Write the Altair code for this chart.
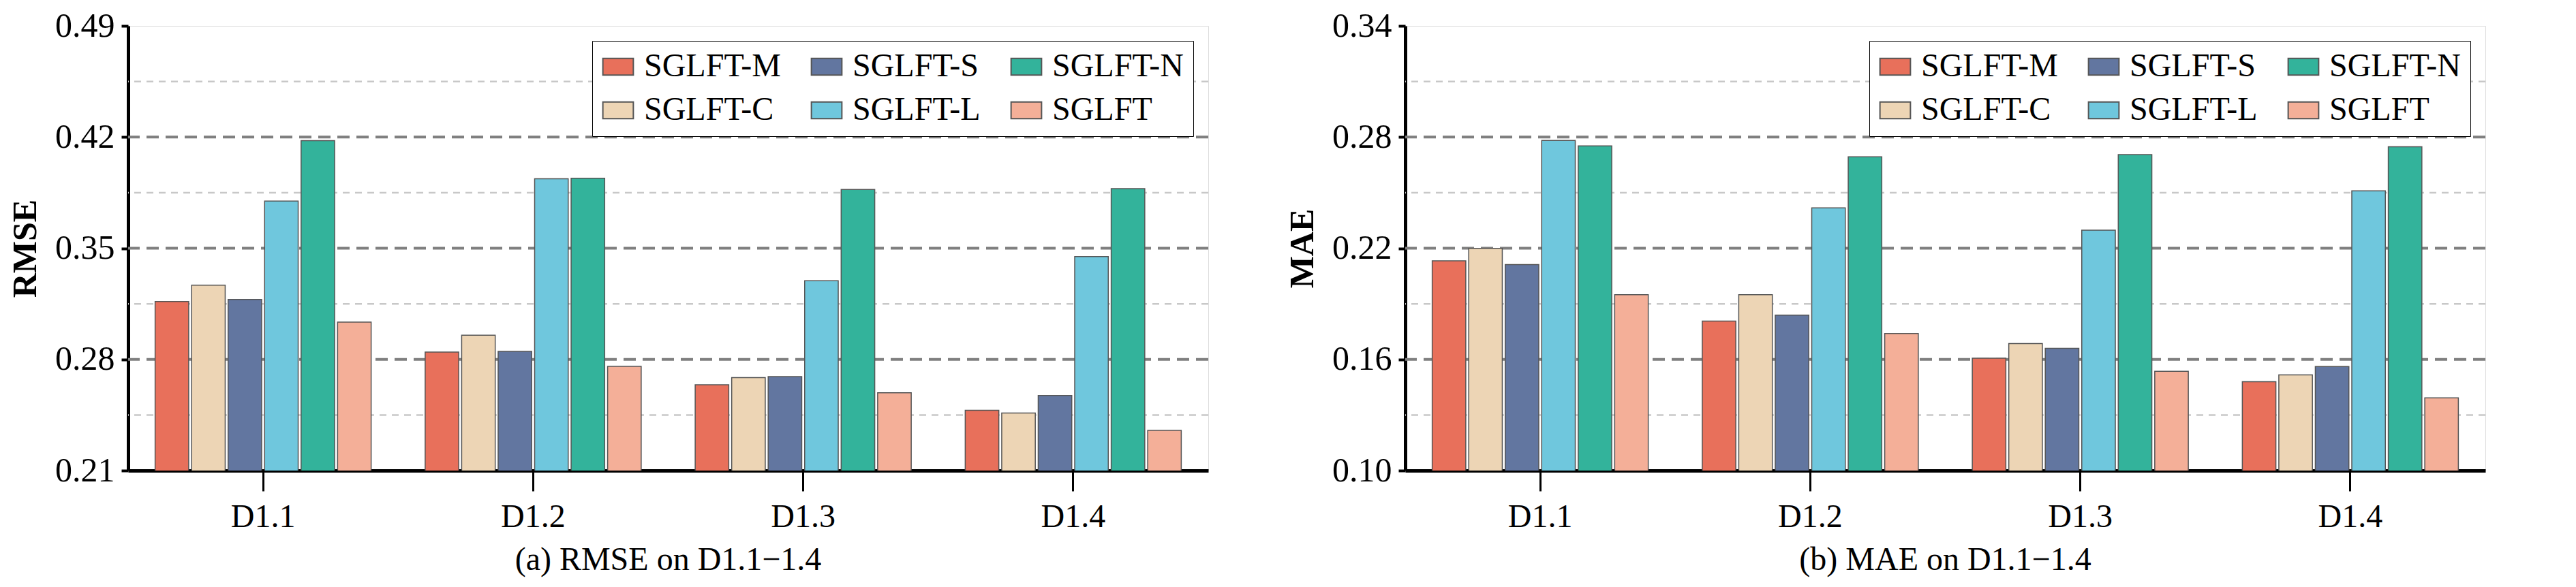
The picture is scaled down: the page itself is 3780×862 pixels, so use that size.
import altair as alt
import pandas as pd

datasets = ["D1.1", "D1.2", "D1.3", "D1.4"]
models = ["SGLFT-M", "SGLFT-C", "SGLFT-S", "SGLFT-L", "SGLFT-N", "SGLFT"]
colors = {"SGLFT-M": "#E8705B", "SGLFT-C": "#EDD5B5", "SGLFT-S": "#6276A0",
          "SGLFT-L": "#6FC7DD", "SGLFT-N": "#33B39B", "SGLFT": "#F4AF98"}

# values per dataset, in model order M, C, S, L, N, SGLFT
rmse = [
    [0.3165, 0.3267, 0.3177, 0.3797, 0.4178, 0.3035],
    [0.2846, 0.2952, 0.2850, 0.3937, 0.3941, 0.2756],
    [0.2640, 0.2685, 0.2692, 0.3295, 0.3870, 0.2590],
    [0.2479, 0.2462, 0.2573, 0.3447, 0.3875, 0.2353],
]
mae = [
    [0.2132, 0.2199, 0.2112, 0.2782, 0.2752, 0.1949],
    [0.1807, 0.1949, 0.1839, 0.2418, 0.2693, 0.1740],
    [0.1606, 0.1685, 0.1660, 0.2297, 0.2705, 0.1536],
    [0.1480, 0.1516, 0.1561, 0.2510, 0.2748, 0.1392],
]
rmse_ticks = [0.21, 0.28, 0.35, 0.42, 0.49]
mae_ticks = [0.10, 0.16, 0.22, 0.28, 0.34]

FONT = "Liberation Serif"


def panel(values, ticks, ytitle, caption):
    df = pd.DataFrame([{"Dataset": d, "Model": m, "Value": values[i][j]}
                       for i, d in enumerate(datasets) for j, m in enumerate(models)])
    half = (ticks[1] - ticks[0]) / 2
    grid = pd.DataFrame(
        [{"v": t, "kind": "major"} for t in ticks[1:-1]] +
        [{"v": t + half, "kind": "minor"} for t in ticks[:-1]])
    yscale = alt.Scale(domain=[ticks[0], ticks[-1]], nice=False, zero=False)

    major = alt.Chart(grid).transform_filter("datum.kind == 'major'").mark_rule(
        color="#7f7f7f", strokeWidth=4, strokeDash=[18, 10]).encode(
        y=alt.Y("v:Q", scale=yscale))
    minor = alt.Chart(grid).transform_filter("datum.kind == 'minor'").mark_rule(
        color="#c8c8c8", strokeWidth=2.5, strokeDash=[10, 8]).encode(
        y=alt.Y("v:Q", scale=yscale))

    bars = alt.Chart(df).mark_bar(stroke="#555555", strokeWidth=1.5, clip=True).encode(
        x=alt.X("Dataset:N", sort=datasets, title=None,
                scale=alt.Scale(paddingInner=0.2, paddingOuter=0.1),
                axis=alt.Axis(labelAngle=0, labelFontSize=48, labelFont=FONT,
                              labelColor="black", tickSize=30, tickWidth=3,
                              tickColor="black", domainWidth=5, domainColor="black",
                              labelPadding=14)),
        xOffset=alt.XOffset("Model:N", sort=models,
                            scale=alt.Scale(paddingInner=0.08)),
        y=alt.Y("Value:Q", scale=yscale, title=ytitle,
                axis=alt.Axis(values=ticks, format=".2f", grid=False,
                              labelFontSize=50, labelFont=FONT, labelColor="black",
                              titleFontSize=50, titleFont=FONT, titleColor="black",
                              titleFontWeight="bold", titlePadding=18,
                              tickSize=10, tickWidth=4, tickColor="black",
                              domainWidth=5, domainColor="black", labelPadding=10)),
        color=alt.Color("Model:N", sort=models, scale=alt.Scale(domain=models,
                        range=[colors[m] for m in models]),
                        legend=alt.Legend(title=None, orient="top-right", columns=3,
                                          offset=22, labelFont=FONT, labelFontSize=48,
                                          labelColor="black", labelLimit=0,
                                          symbolType="M-1,-0.55H1V0.55H-1Z",
                                          symbolSize=2000, symbolStrokeColor="#555555",
                                          symbolStrokeWidth=2, columnPadding=40,
                                          rowPadding=16, padding=14,
                                          strokeColor="black", fillColor="white",
                                          labelOffset=14)),
    )
    return alt.layer(minor, major, bars).properties(
        width=1585, height=653,
        title=alt.TitleParams(caption, orient="bottom", font=FONT, fontSize=48,
                              fontWeight="normal", color="black", offset=16),
    )


left = panel(rmse, rmse_ticks, "RMSE", "(a) RMSE on D1.1\u22121.4")
right = panel(mae, mae_ticks, "MAE", "(b) MAE on D1.1\u22121.4")

chart = alt.hconcat(left, right, spacing=110).resolve_scale(
    y="independent", color="independent").resolve_legend(
    color="independent").properties(padding=4).configure_view(
    stroke="black", strokeWidth=5).configure(background="white")

chart.save("out.html", embed_options={"renderer": "svg", "actions": False})
